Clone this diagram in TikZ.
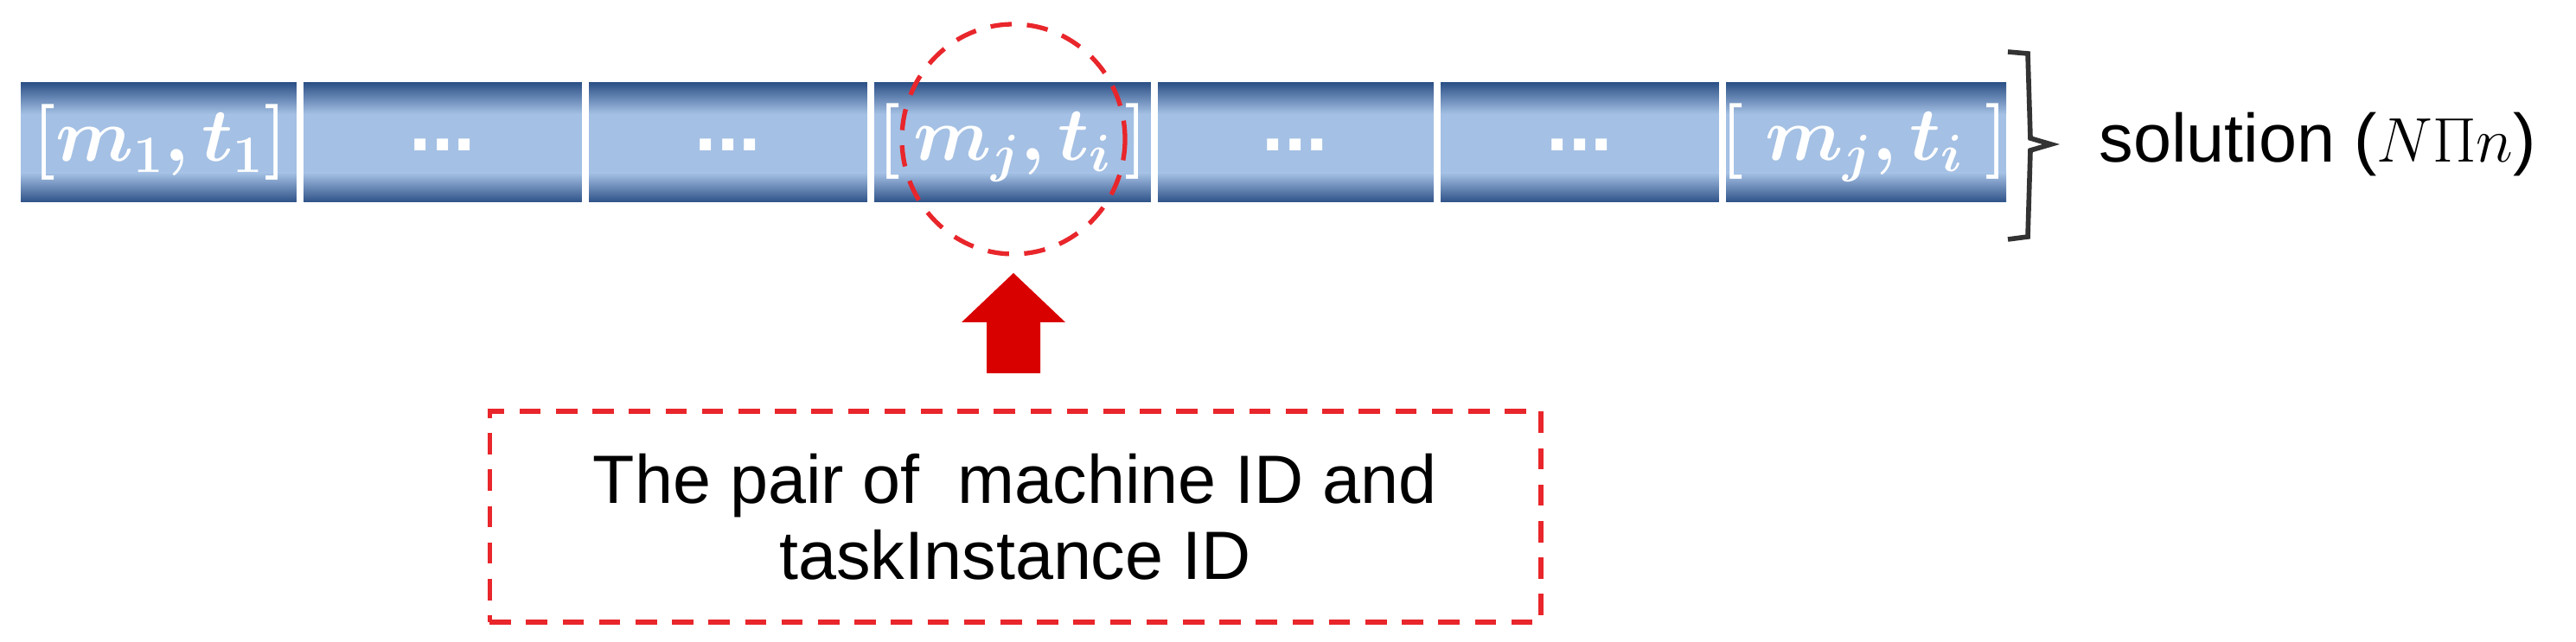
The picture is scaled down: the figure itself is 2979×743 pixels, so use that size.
\documentclass[tikz,border=0pt]{standalone}
\usepackage{fontspec}
\usepackage{amsmath,bm}
\setmainfont{Liberation Sans}
\definecolor{barlight}{HTML}{A4C0E4}
\definecolor{bardark}{HTML}{2E5288}
\definecolor{redd}{HTML}{E8262B}
\begin{document}
\begin{tikzpicture}[x=0.01cm,y=-0.01cm,
  celltext/.style={text=white,font=\fontsize{26}{30}\selectfont},
  lbl/.style={font=\fontsize{22.5}{27}\selectfont,text=black}]
\useasboundingbox (0,0) rectangle (2979,743);
% bar
\fill[barlight] (24,96) rectangle (2320,234);
\shade[top color=bardark,bottom color=barlight] (24,96) rectangle (2320,132);
\shade[top color=barlight,bottom color=bardark] (24,200) rectangle (2320,234);
\foreach \x in {347,677,1007,1335,1662,1992}
  \draw[white,line width=2.5pt] (\x,94) -- (\x,244);
% cell texts
\node[celltext] (c1) at (185,165) {$\bm{[m_1,t_1]}$};
\node[celltext] (c2) at (512,168) {\textbf{...}};
\node[celltext] (c3) at (842,168) {\textbf{...}};
\node[celltext] (c4) at (1171,165) {$\bm{[\,m_j,t_i\,]}$};
\node[celltext] (c5) at (1498,168) {\textbf{...}};
\node[celltext] (c6) at (1827,168) {\textbf{...}};
\node[celltext] (c7) at (2156,165) {$\bm{[\;m_j,t_i\;]}$};
% brace
\draw[line width=1.6pt,black!80] (2322,60) -- (2345,62) -- (2348,160) -- (2372,167) -- (2348,174) -- (2345,274) -- (2322,277);
\node[lbl,anchor=west] (sol) at (2415,167) {solution ($N\Pi n$)};
% dashed circle
\draw[redd,dashed,line width=1.5pt,dash pattern=on 7pt off 5pt] (1172,161) ellipse [x radius=129, y radius=133];
% arrow
\fill[red!85!black] (1172,316) -- (1232,373) -- (1203,373) -- (1203,432) -- (1141,432) -- (1141,373) -- (1112,373) -- cycle;
% box
\node[draw=redd,dashed,line width=1.5pt,dash pattern=on 7pt off 5pt,minimum width=1215\pgflinewidth*0+12.15cm,minimum height=2.44cm,
  lbl,align=center] (box) at (1174,598) {The pair of\ \ machine ID and\\[-2pt]taskInstance ID};
\coordinate (tip) at (1172,316);
\end{tikzpicture}
\end{document}
